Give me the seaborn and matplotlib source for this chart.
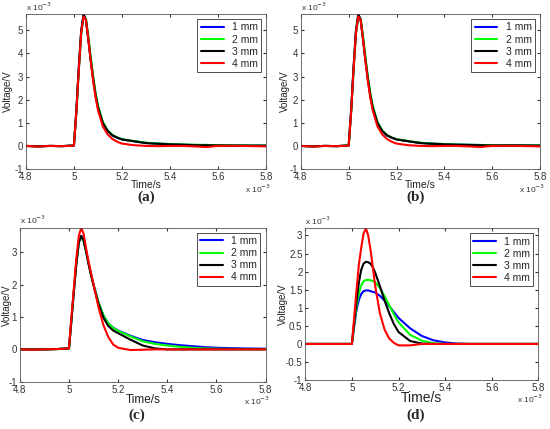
import pandas as pd
import matplotlib.pyplot as plt
import seaborn as sns

# time axis (x 10^-3 s), shared by all panels
time_ms = [4.80, 4.85, 4.90, 4.95, 5.00, 5.01, 5.02, 5.03, 5.04, 5.05,
           5.06, 5.07, 5.08, 5.09, 5.10, 5.12, 5.14, 5.16, 5.18, 5.20,
           5.25, 5.30, 5.35, 5.40, 5.45, 5.50, 5.55, 5.60, 5.70, 5.80]
labels = ["1 mm", "2 mm", "3 mm", "4 mm"]
colors = ["#0000ff", "#00ff00", "#000000", "#ff0000"]

# panel (a) voltages (x 10^-3 V)
a_1mm = [0, -0.02, 0, -0.01, 0.02, 1.5, 3.3, 4.9, 5.65, 5.45, 4.65, 3.75, 2.95, 2.25, 1.7,
         1.0, 0.65, 0.45, 0.35, 0.28, 0.2, 0.13, 0.1, 0.08, 0.06, 0.04, 0.04, 0.03, 0.02, 0.01]
a_2mm = [0, -0.02, 0, -0.01, 0.02, 1.4, 3.2, 4.8, 5.6, 5.5, 4.75, 3.85, 3.0, 2.3, 1.75,
         1.05, 0.68, 0.47, 0.36, 0.29, 0.21, 0.14, 0.1, 0.08, 0.06, 0.05, 0.04, 0.03, 0.02, 0.01]
a_3mm = [0, -0.02, 0, -0.01, 0.02, 1.5, 3.35, 4.95, 5.72, 5.45, 4.6, 3.7, 2.9, 2.2, 1.68,
         1.0, 0.65, 0.46, 0.36, 0.28, 0.2, 0.12, 0.09, 0.07, 0.05, 0.03, 0.03, 0.02, 0.01, 0.01]
a_4mm = [0, -0.03, 0, -0.01, 0.01, 1.45, 3.25, 4.85, 5.6, 5.45, 4.6, 3.65, 2.8, 2.1, 1.55,
         0.85, 0.5, 0.3, 0.18, 0.1, 0.03, 0.0, -0.01, 0.0, 0.0, -0.02, -0.05, 0.0, 0.0, -0.02]

# panel (b)
b_1mm = [0, -0.02, 0, -0.01, 0.02, 1.5, 3.3, 4.9, 5.65, 5.45, 4.65, 3.75, 2.95, 2.25, 1.7,
         1.0, 0.65, 0.45, 0.35, 0.28, 0.2, 0.13, 0.1, 0.08, 0.06, 0.05, 0.04, 0.03, 0.03, 0.02]
b_2mm = [0, -0.02, 0, -0.01, 0.02, 1.4, 3.2, 4.8, 5.6, 5.5, 4.75, 3.85, 3.0, 2.3, 1.75,
         1.05, 0.68, 0.47, 0.36, 0.29, 0.21, 0.14, 0.1, 0.08, 0.06, 0.05, 0.04, 0.03, 0.02, 0.02]
b_3mm = [0, -0.02, 0, -0.01, 0.02, 1.5, 3.35, 4.95, 5.72, 5.45, 4.6, 3.7, 2.9, 2.2, 1.68,
         1.0, 0.65, 0.46, 0.36, 0.28, 0.2, 0.12, 0.09, 0.07, 0.05, 0.04, 0.03, 0.02, 0.02, 0.01]
b_4mm = [0, -0.03, 0, -0.01, 0.01, 1.45, 3.25, 4.85, 5.6, 5.45, 4.6, 3.65, 2.8, 2.1, 1.55,
         0.85, 0.5, 0.3, 0.18, 0.1, 0.03, 0.0, -0.01, 0.0, 0.0, -0.02, -0.05, 0.0, 0.0, -0.02]

# panel (c)
c_1mm = [0, 0, 0, 0.01, 0.03, 0.9, 1.8, 2.65, 3.3, 3.5, 3.35, 3.0, 2.65, 2.3, 2.0,
         1.45, 1.05, 0.8, 0.67, 0.58, 0.42, 0.29, 0.22, 0.17, 0.13, 0.1, 0.07, 0.05, 0.03, 0.02]
c_2mm = [0, 0, 0, 0.01, 0.03, 0.9, 1.8, 2.65, 3.3, 3.48, 3.33, 3.0, 2.65, 2.3, 2.0,
         1.45, 1.05, 0.8, 0.66, 0.57, 0.4, 0.25, 0.17, 0.12, 0.08, 0.05, 0.03, 0.02, 0.01, 0.01]
c_3mm = [0, 0, 0, 0.01, 0.03, 0.9, 1.8, 2.65, 3.3, 3.5, 3.35, 3.0, 2.62, 2.28, 1.97,
         1.4, 0.98, 0.72, 0.58, 0.5, 0.3, 0.12, 0.03, 0.0, 0.0, 0.0, 0.0, 0.0, 0.0, 0.0]
c_4mm = [0, -0.01, 0, 0.01, 0.03, 1.0, 1.9, 2.8, 3.5, 3.75, 3.55, 3.1, 2.7, 2.35, 2.0,
         1.3, 0.75, 0.38, 0.15, 0.05, -0.02, -0.01, 0.0, 0.0, 0.0, 0.0, 0.0, 0.0, 0.0, 0.0]

# panel (d)
d_1mm = [0, 0, 0, 0, 0, 0.5, 0.95, 1.22, 1.38, 1.46, 1.48, 1.48, 1.46, 1.44, 1.42,
         1.33, 1.2, 1.05, 0.88, 0.72, 0.43, 0.22, 0.1, 0.04, 0.01, 0, 0, 0, 0, 0]
d_2mm = [0, 0, 0, 0, 0, 0.55, 1.05, 1.4, 1.62, 1.73, 1.77, 1.77, 1.76, 1.74, 1.7,
         1.55, 1.32, 1.07, 0.82, 0.6, 0.25, 0.09, 0.02, 0, 0, 0, 0, 0, 0, 0]
d_3mm = [0, 0, 0, 0, 0, 0.6, 1.2, 1.7, 2.05, 2.22, 2.27, 2.26, 2.22, 2.12, 1.97,
         1.6, 1.2, 0.85, 0.55, 0.33, 0.08, 0.01, 0, 0, 0, 0, 0, 0, 0, 0]
d_4mm = [0, 0, 0, 0, 0, 0.75, 1.5, 2.2, 2.66, 3.05, 3.2, 3.0, 2.6, 2.1, 1.6,
         0.85, 0.4, 0.15, 0.03, -0.04, -0.04, 0.0, 0, 0, 0, 0, 0, 0, 0, 0]

# tag, data, axes rect, ylim, yticks, xlabel size, tag pos, ylabel x, xlabel y
panels = [
    ("(a)", [a_1mm, a_2mm, a_3mm, a_4mm], [0.047, 0.606, 0.437, 0.361], (-1, 5.7),
     [-1, 0, 1, 2, 3, 4, 5], 7.5, (0.265, 0.541), -0.075, -0.105),
    ("(b)", [b_1mm, b_2mm, b_3mm, b_4mm], [0.547, 0.606, 0.435, 0.361], (-1, 5.7),
     [-1, 0, 1, 2, 3, 4, 5], 7.5, (0.755, 0.541), -0.067, -0.105),
    ("(c)", [c_1mm, c_2mm, c_3mm, c_4mm], [0.036, 0.110, 0.447, 0.359], (-1, 3.75),
     [-1, 0, 1, 2, 3], 8.5, (0.249, 0.033), -0.053, -0.117),
    ("(d)", [d_1mm, d_2mm, d_3mm, d_4mm], [0.555, 0.114, 0.424, 0.354], (-1, 3.2),
     [-1, -0.5, 0, 0.5, 1, 1.5, 2, 2.5, 3], 10, (0.755, 0.033), -0.094, -0.118),
]

sns.set_style("ticks")
plt.rcParams['font.family'] = ['Liberation Sans', 'DejaVu Sans']

fig = plt.figure(figsize=(5.5, 4.29), dpi=100)

for tag, series, rect, ylim, yticks, xlab_size, tag_pos, ylab_x, xlab_y in panels:
    ax = fig.add_axes(rect)
    for vals, lab, col in zip(series, labels, colors):
        df = pd.DataFrame({"t": time_ms, "v": vals})
        sns.lineplot(data=df, x="t", y="v", ax=ax, color=col, lw=1.5, label=lab)
    ax.set_xlim(4.8, 5.8)
    ax.set_ylim(*ylim)
    ax.set_xticks([4.8, 5.0, 5.2, 5.4, 5.6, 5.8])
    ax.set_xticklabels(["4.8", "5", "5.2", "5.4", "5.6", "5.8"])
    ax.set_yticks(yticks)
    ax.set_yticklabels([("%g" % v) for v in yticks])
    ax.tick_params(direction="in", length=2.5, labelsize=7, colors="#333333",
                   top=True, right=True, pad=2)
    for sp in ax.spines.values():
        sp.set_color("#555555")
        sp.set_linewidth(0.6)
    ax.set_xlabel("Time/s", fontsize=xlab_size, color="#222222")
    ax.xaxis.set_label_coords(0.5, xlab_y)
    ax.xaxis.label.set_va("center")
    ax.set_ylabel("Voltage/V", fontsize=7, color="#222222")
    ax.yaxis.set_label_coords(ylab_x, 0.5)
    ax.yaxis.label.set_va("center")
    ax.text(0.0, 1.01, r"x 10$^{-3}$", transform=ax.transAxes, fontsize=6,
            color="#333333", ha="left", va="bottom")
    ax.text(1.02, -0.125, r"x 10$^{-3}$", transform=ax.transAxes, fontsize=6,
            color="#333333", ha="right", va="center")
    leg = ax.legend(loc="upper right", fontsize=7.5, frameon=True, fancybox=False,
                    handlelength=2.2, borderpad=0.3, labelspacing=0.2,
                    handletextpad=0.8, borderaxespad=0.5)
    leg.get_frame().set_edgecolor("#000000")
    leg.get_frame().set_linewidth(0.6)
    fig.text(tag_pos[0], tag_pos[1], tag, fontsize=11, fontweight="bold",
             family="Liberation Serif", ha="center", va="center")

fig.savefig("out.png", dpi=100)
